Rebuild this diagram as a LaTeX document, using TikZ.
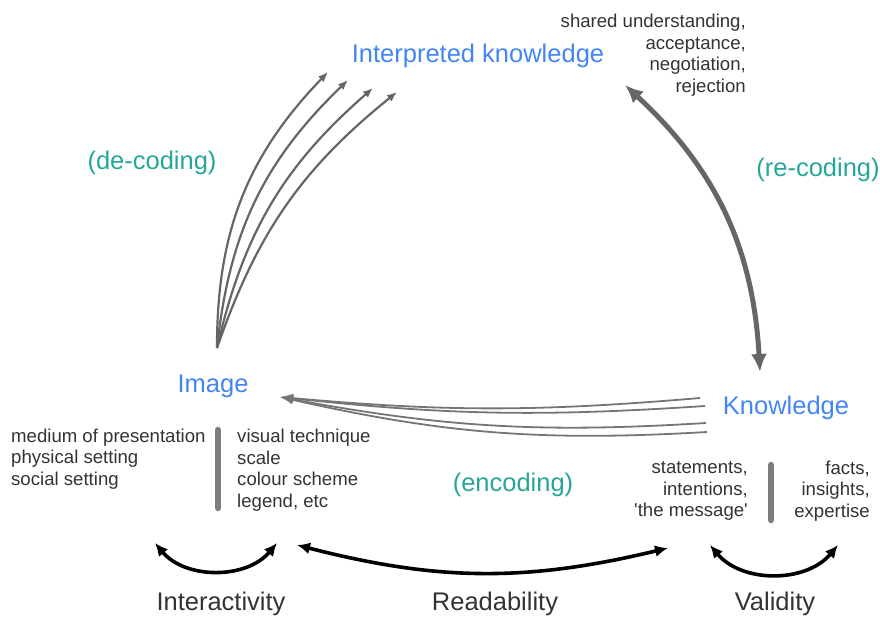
\documentclass[tikz,border=0pt]{standalone}
\usepackage{fontspec}
\setmainfont{Liberation Sans}
\usepackage{tikz}
\usetikzlibrary{arrows.meta,positioning,calc}
\definecolor{kblue}{RGB}{66,133,244}
\definecolor{kteal}{RGB}{38,166,154}
\definecolor{ktext}{RGB}{51,51,51}
\definecolor{kgrey}{RGB}{102,102,102}
\definecolor{kbar}{RGB}{122,126,128}
\tikzset{
    title/.style={text=kblue, font=\fontsize{25.5}{30}\selectfont, inner sep=0pt},
    phase/.style={text=kteal, font=\fontsize{25.5}{30}\selectfont, inner sep=0pt},
    quality/.style={text=ktext, font=\fontsize{25.5}{30}\selectfont, inner sep=0pt},
    note/.style={text=ktext, font=\fontsize{18.6}{21.5}\selectfont, inner sep=0pt},
    decode/.style={-{Latex[length=10pt, width=8pt]}, line width=2.2pt, kgrey},
    encode/.style={-{Latex[length=13pt, width=9pt]}, line width=1.8pt, kgrey!90},
    recode/.style={{Latex[length=18pt, width=16pt]}-{Latex[length=18pt, width=16pt]}, line width=5pt, kgrey},
    quallink/.style={{Latex[length=13pt, width=12pt]}-{Latex[length=13pt, width=12pt]}, line width=3.6pt, black},
    divider/.style={line width=6.5pt, line cap=round, kbar}
}
\begin{document}
\begin{tikzpicture}[x=1pt, y=1pt]
                    \useasboundingbox (0,0) rectangle (880,619);
                    \node[title] (interp) at (478,563) {Interpreted knowledge};
                    \node[note, align=right, anchor=east] (shared) at (746,564) {shared understanding,\\acceptance,\\negotiation,\\rejection};
                    \node[phase] (decoding) at (152,456) {(de-coding)};
                    \node[phase] (recoding) at (818,449) {(re-coding)};
                    \node[title] (img) at (213,233) {Image};
                    \node[title] (know) at (786,211) {Knowledge};
                    \node[phase] (encoding) at (513,134) {(encoding)};
                    
                    \node[note, align=left, anchor=west] (setting) at (11,160) {medium of presentation\\physical setting\\social setting};
                    \node[note, align=left, anchor=west] (technique) at (237,149) {visual technique\\scale\\colour scheme\\legend, etc};
                    \node[note, align=right, anchor=east] (message) at (748,128) {statements,\\intentions,\\\textquotesingle the message\textquotesingle};
                    \node[note, align=right, anchor=east] (facts) at (870,128) {facts,\\insights,\\expertise};
                    
                    \node[quality] (interactivity) at (221,15) {Interactivity};
                    \node[quality] (readability) at (495,15) {Readability};
                    \node[quality] (validity) at (775,15) {Validity};
                    
                    \coordinate (imgtop) at (217,271);
                    \coordinate (d1) at (328,547);
                    \coordinate (d2) at (348,539);
                    \coordinate (d3) at (373,531);
                    \coordinate (d4) at (397,527);
                    \draw[decode] (imgtop) to[bend left=22] (d1);
                    \draw[decode] (imgtop) to[bend left=20] (d2);
                    \draw[decode] (imgtop) to[bend left=18] (d3);
                    \draw[decode] (imgtop) to[bend left=16] (d4);
                    
                    \coordinate (imgright) at (280,222);
                    \coordinate (e1) at (700,221);
                    \coordinate (e2) at (705,213);
                    \coordinate (e3) at (706,196);
                    \coordinate (e4) at (707,187);
                    \draw[encode] (e1) to[bend left=5] (imgright);
                    \draw[encode] (e2) to[bend left=5] (imgright);
                    \draw[encode] (e3) to[bend left=7] (imgright);
                    \draw[encode] (e4) to[bend left=8] (imgright);
                    
                    \coordinate (interpend) at (625,534);
                    \coordinate (knowtop) at (760,247);
                    \draw[recode] (interpend) to[bend left=22] (knowtop);
                    
                    \draw[divider] (218,189) -- (218,111);
                    \draw[divider] (771,154) -- (771,99);
                    
                    \coordinate (i1) at (155,76);
                    \coordinate (i2) at (277,76);
                    \coordinate (r1) at (297,74);
                    \coordinate (r2) at (668,71);
                    \coordinate (v1) at (710,74);
                    \coordinate (v2) at (838,74);
                    \draw[quallink] (i1) to[bend right=50] (i2);
                    \draw[quallink] (r1) to[bend right=14] (r2);
                    \draw[quallink] (v1) to[bend right=50] (v2);
                \end{tikzpicture}
\end{document}
